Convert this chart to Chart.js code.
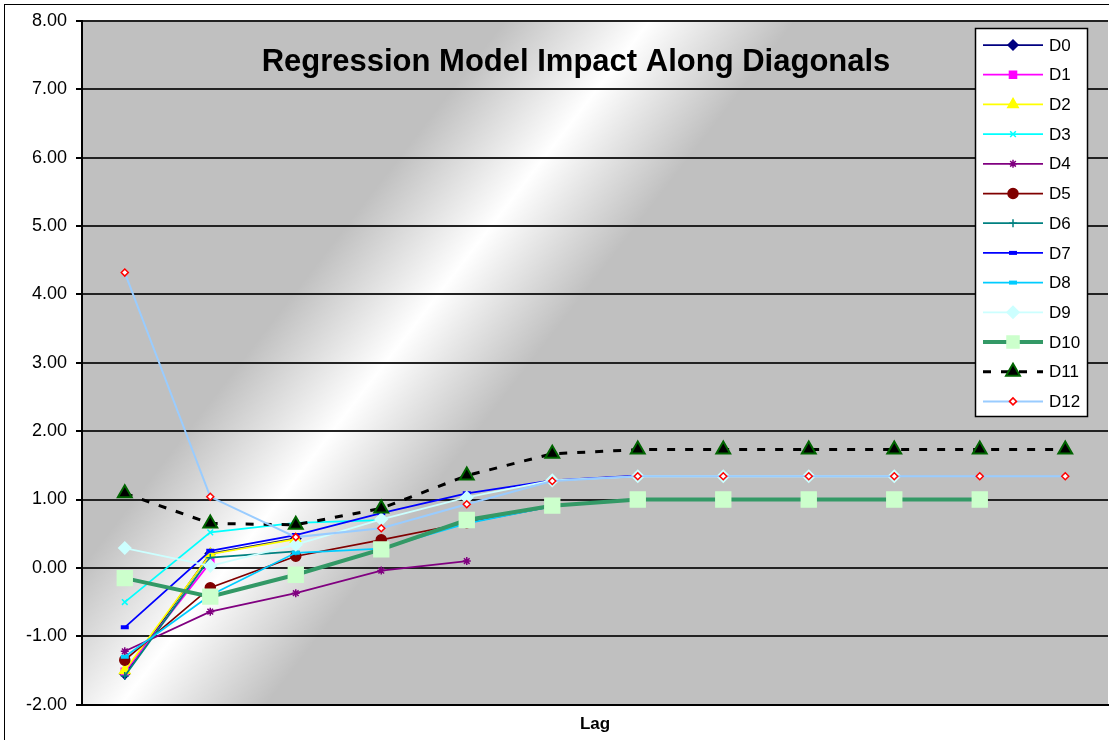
<!DOCTYPE html>
<html>
<head>
<meta charset="utf-8">
<title>Regression Model Impact Along Diagonals</title>
<script src="https://cdn.jsdelivr.net/npm/chart.js@4/dist/chart.umd.min.js"></script>
<style>
  body { margin: 0; background: #fff; }
  canvas { display: block; }
</style>
</head>
<body>
<canvas id="chart" width="1109" height="740"></canvas>
<script>
// Values; one entry per lag, missing lags are left off.
let lags = ["1", "2", "3", "4", "5", "6", "7", "8", "9", "10", "11", "12"]

let d0 = [-1.55, 0.21, 0.43]
let d1 = [-1.52, 0.08]
let d2 = [-1.50, 0.20, 0.42]
let d3 = [-0.50, 0.52, 0.66, 0.70]
let d4 = [-1.22, -0.64, -0.37, -0.04, 0.10]
let d5 = [-1.35, -0.29, 0.17, 0.41, 0.66, 0.90]
let d6 = [-1.58, 0.15, 0.24]
let d7 = [-0.87, 0.25, 0.48, 0.80, 1.09, 1.28, 1.35]
let d8 = [-1.30, -0.40, 0.22, 0.28, 0.65, 0.90]
let d9 = [0.29, 0.03, 0.34, 0.71, 1.03, 1.28, 1.34, 1.34, 1.34, 1.34]
let d10 = [-0.15, -0.42, -0.10, 0.27, 0.70, 0.91, 1.00, 1.00, 1.00, 1.00, 1.00]
let d11 = [1.09, 0.65, 0.63, 0.87, 1.35, 1.67, 1.73, 1.73, 1.73, 1.73, 1.73, 1.73]
let d12 = [4.32, 1.04, 0.45, 0.58, 0.93, 1.27, 1.34, 1.34, 1.34, 1.34, 1.34, 1.34]

let yTicks = { min: -2, max: 8, step: 1 }

const FONT = "'Liberation Sans', Arial, sans-serif"

// Small helper so every series looks like an Excel line-with-markers series
function series(label, data, color, style, extra) {
    return Object.assign({
        label,
        data,
        borderColor: color,
        borderWidth: 1.75,
        pointStyle: style,
        pointRadius: 4,
        pointBackgroundColor: color,
        pointBorderColor: color,
        pointBorderWidth: 1.5,
        tension: 0,
        fill: false,
    }, extra || {})
}

let datasets = [
    series("D0", d0, "#000080", "rectRot", { pointRadius: 5 }),
    series("D1", d1, "#FF00FF", "rect", { pointRadius: 5 }),
    series("D2", d2, "#FFFF00", "triangle", { pointRadius: 6 }),
    series("D3", d3, "#00FFFF", "crossRot", { pointRadius: 4 }),
    series("D4", d4, "#800080", "star", { pointRadius: 4 }),
    series("D5", d5, "#800000", "circle", { pointRadius: 5 }),
    series("D6", d6, "#008080", "cross", { pointRadius: 4 }),
    series("D7", d7, "#0000FF", "line", { pointRadius: 4, pointBorderWidth: 4 }),
    series("D8", d8, "#00CCFF", "line", { pointRadius: 4, pointBorderWidth: 4 }),
    series("D9", d9, "#CCFFFF", "rectRot", { pointRadius: 6 }),
    series("D10", d10, "#339966", "rect", { borderWidth: 4, pointRadius: 10.5,
                                             pointBackgroundColor: "#CCFFCC", pointBorderColor: "#CCFFCC" }),
    series("D11", d11, "#000000", "triangle", { borderWidth: 3, borderDash: [8, 10], pointRadius: 8,
                                                 pointBackgroundColor: "#000000", pointBorderColor: "#006400",
                                                 pointBorderWidth: 2 }),
    series("D12", d12, "#99CCFF", "rectRot", { borderWidth: 2, pointRadius: 3.5,
                                                pointBackgroundColor: "#FFFFFF", pointBorderColor: "#FF0000",
                                                pointBorderWidth: 1.5 }),
]
// later series are painted on top, as in the original
datasets.forEach((ds, i) => { ds.order = datasets.length - i })

// Gray plot area with a diagonal white highlight, plus the outer frame
const background = {
    id: "background",
    beforeDraw(chart) {
        let { ctx, chartArea: a } = chart
        ctx.save()
        ctx.strokeStyle = "#000"
        ctx.lineWidth = 1
        ctx.strokeRect(4.5, 4.5, chart.width, chart.height)
        ctx.fillStyle = "#C0C0C0"
        ctx.fillRect(a.left, a.top, a.right - a.left, a.bottom - a.top)
        // band runs from lower left to upper right
        let cx = 372, cy = 380, ux = 0.791, uy = 0.612, half = 115
        let g = ctx.createLinearGradient(cx - half * ux, cy - half * uy, cx + half * ux, cy + half * uy)
        g.addColorStop(0, "rgba(255,255,255,0)")
        g.addColorStop(0.5, "rgba(255,255,255,1)")
        g.addColorStop(1, "rgba(255,255,255,0)")
        ctx.fillStyle = g
        ctx.fillRect(a.left, a.top, a.right - a.left, a.bottom - a.top)
        ctx.restore()
    }
}

// Title inside the plot and the boxed legend at the upper right
const overlay = {
    id: "overlay",
    afterDraw(chart) {
        let ctx = chart.ctx
        ctx.save()
        ctx.fillStyle = "#000"
        ctx.font = "bold 31px " + FONT
        ctx.textAlign = "center"
        ctx.textBaseline = "middle"
        ctx.fillText("Regression Model Impact Along Diagonals", 576, 62)

        let left = 975.5, top = 28.5, w = 112, h = 388
        ctx.fillStyle = "#fff"
        ctx.fillRect(left, top, w, h)
        ctx.strokeStyle = "#000"
        ctx.lineWidth = 1.5
        ctx.strokeRect(left, top, w, h)

        chart.data.datasets.forEach((ds, i) => {
            let y = 45 + i * 29.7
            ctx.beginPath()
            ctx.setLineDash(ds.borderDash || [])
            ctx.strokeStyle = ds.borderColor
            ctx.lineWidth = ds.borderWidth
            ctx.moveTo(983, y)
            ctx.lineTo(1043, y)
            ctx.stroke()
            ctx.setLineDash([])
            ctx.fillStyle = ds.pointBackgroundColor
            ctx.strokeStyle = ds.pointBorderColor
            ctx.lineWidth = ds.pointBorderWidth
            let r = ds.pointRadius > 8 ? 8.5 : ds.pointRadius
            Chart.helpers.drawPoint(ctx, { pointStyle: ds.pointStyle, rotation: 0, radius: r,
                                           borderWidth: ds.pointBorderWidth }, 1013, y)
            ctx.fillStyle = "#000"
            ctx.font = "17px " + FONT
            ctx.textAlign = "left"
            ctx.textBaseline = "middle"
            ctx.fillText(ds.label, 1049, y + 1)
        })
        ctx.restore()
    }
}

new Chart(document.getElementById("chart"), {
    type: "line",
    data: { labels: lags, datasets },
    plugins: [background, overlay],
    options: {
        responsive: false,
        animation: false,
        events: [],
        layout: { autoPadding: false, padding: { left: 17, right: 1, top: 21, bottom: 5 } },
        plugins: {
            legend: { display: false },
            title: { display: false },
            tooltip: { enabled: false },
        },
        scales: {
            x: {
                type: "category",
                offset: true,
                grid: { display: false, drawTicks: false },
                border: { display: true, color: "#000", width: 2 },
                ticks: { display: false },
                title: {
                    display: true,
                    text: "Lag",
                    color: "#000",
                    font: { family: FONT, size: 17, weight: "bold" },
                    padding: { top: 10, bottom: 0 },
                },
            },
            y: {
                min: yTicks.min,
                max: yTicks.max,
                ticks: {
                    stepSize: yTicks.step,
                    color: "#000",
                    font: { family: FONT, size: 18 },
                    padding: 9,
                    callback: v => v.toFixed(2),
                },
                grid: { color: "#222", lineWidth: 2, tickLength: 6, tickColor: "#000" },
                border: { color: "#000", width: 2 },
            },
        },
    },
})
</script>
</body>
</html>
